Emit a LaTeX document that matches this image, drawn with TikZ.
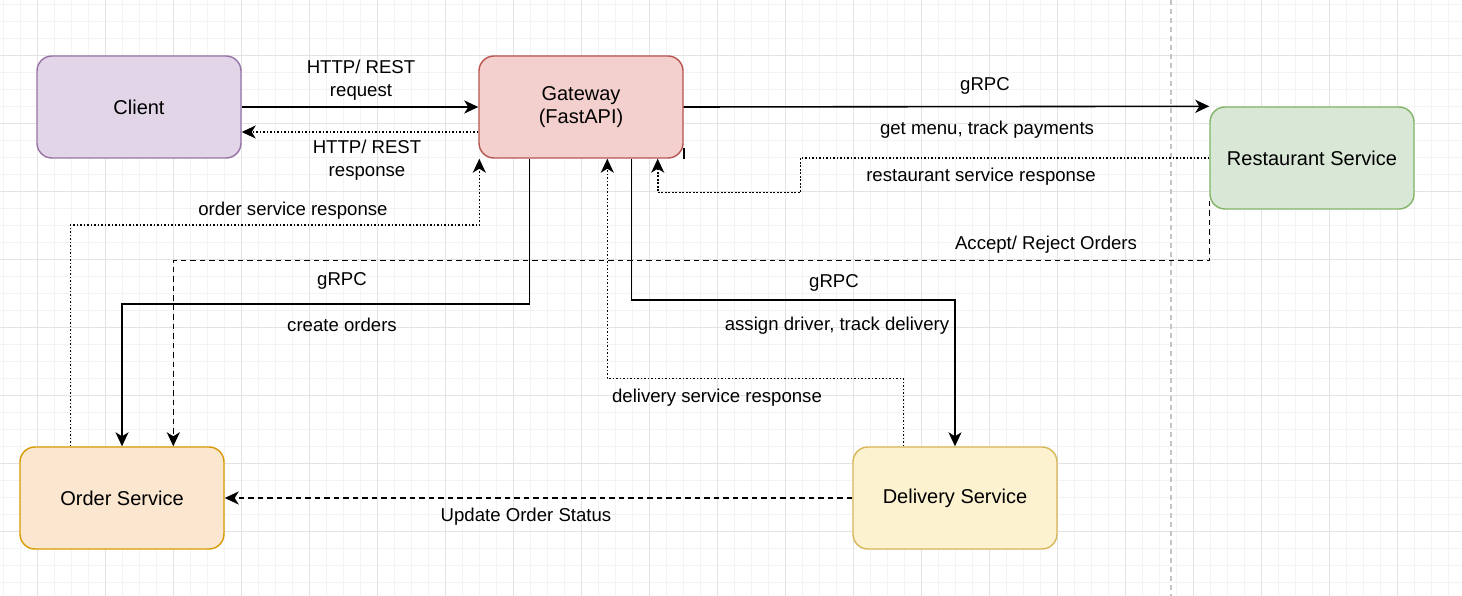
\documentclass[tikz,border=0pt]{standalone}
\usepackage{fontspec}
\setmainfont{Liberation Sans}
\usetikzlibrary{arrows.meta,calc}
\definecolor{gridminor}{HTML}{F3F3F3}
\definecolor{gridmajor}{HTML}{E3E3E3}
\definecolor{sepline}{HTML}{C4C4C4}
\definecolor{purfill}{HTML}{E1D5E7}\definecolor{purdraw}{HTML}{9673A6}
\definecolor{redfill}{HTML}{F3D0CE}\definecolor{reddraw}{HTML}{B85450}
\definecolor{grnfill}{HTML}{D9E8D6}\definecolor{grndraw}{HTML}{82B366}
\definecolor{orgfill}{HTML}{FBE6D0}\definecolor{orgdraw}{HTML}{D79B00}
\definecolor{yelfill}{HTML}{FCF2CF}\definecolor{yeldraw}{HTML}{D6B656}
\begin{document}
\begin{tikzpicture}[x=1pt,y=-1pt,
  box/.style={rectangle,rounded corners=15pt,minimum width=204pt,minimum height=102pt,line width=1.4pt,align=center,font=\fontsize{20}{23.5}\selectfont},
  lbl/.style={align=center,inner sep=0pt,font=\fontsize{18.6}{23}\selectfont},
  conn/.style={line width=1.6pt,-{Stealth[length=14pt,width=13pt,inset=4pt]}},
  dotline/.style={conn,dash pattern=on 1.6pt off 1.9pt},
  dashline/.style={conn,dash pattern=on 5.5pt off 4pt},
]
\useasboundingbox (0,0) rectangle (1462,596);
\fill[white] (0,0) rectangle (1462,596);
% grid
\foreach \i in {0,...,86} {\draw[gridminor,line width=0.8pt] ({3+17*\i},0) -- ({3+17*\i},596);}
\foreach \i in {0,...,35} {\draw[gridminor,line width=0.8pt] (0,{4+17*\i}) -- (1462,{4+17*\i});}
\foreach \i in {0,...,21} {\draw[gridmajor,line width=0.9pt] ({37+68*\i},0) -- ({37+68*\i},596);}
\foreach \i in {-1,...,8} {\draw[gridmajor,line width=0.9pt] (0,{55+68*\i}) -- (1462,{55+68*\i});}
\draw[sepline,line width=1.2pt,dash pattern=on 5pt off 4pt] (1171,0) -- (1171,596);
% boxes
\node[box,fill=purfill,draw=purdraw] (client) at (139,107) {Client};
\node[box,fill=redfill,draw=reddraw] (gw) at (581,107) {Gateway\\(FastAPI)};
\node[box,fill=grnfill,draw=grndraw] (rest) at (1312,158) {Restaurant Service};
\node[box,fill=orgfill,draw=orgdraw] (order) at (122,498) {Order Service};
\node[box,fill=yelfill,draw=yeldraw] (deliv) at (955,498) {Delivery Service};
% connectors
\draw[conn] (client.east) -- (gw.west);
\draw[dotline] ($(gw.west)+(0,25)$) -- ($(client.east)+(0,25)$);
\draw[conn] (gw.east) -- (rest.north west);
\draw[line width=1.6pt] (gw.south east) -- ++(0,-11);
\draw[dotline] (rest.west) -- ++(-409,0) |- ($(gw.south east)+(-26,34)$) -- ($(gw.south east)+(-26,0)$);
\draw[conn] ($(gw.south west)+(51,0)$) -- ++(0,145) -| (order.north);
\draw[dotline] ($(order.north west)+(51,0)$) -- ++(0,-221) -| ($(gw.south west)+(1,0)$);
\draw[dashline] ($(rest.south west)+(0,-9)$) -- ++(0,60) -| ($(order.north west)+(154,0)$);
\draw[conn] ($(gw.south west)+(153,0)$) -- ++(0,141) -| (deliv.north);
\draw[dotline] ($(deliv.north west)+(51,0)$) -- ++(0,-68) -| ($(gw.south west)+(129,0)$);
\draw[dashline] (deliv.west) -- (order.east);
% labels
\node[lbl] (l1) at (361,80) {HTTP/ REST\\request};
\node[lbl] (l2) at (367,160) {HTTP/ REST\\response};
\node[lbl] (l3) at (985,86) {gRPC};
\node[lbl] (l4) at (987,130) {get menu, track payments};
\node[lbl] (l5) at (981,177) {restaurant service response};
\node[lbl] (l6) at (293,211) {order service response};
\node[lbl] (l7) at (1046,245) {Accept/ Reject Orders};
\node[lbl] (l8) at (342,281) {gRPC};
\node[lbl] (l9) at (342,325) {create orders};
\node[lbl] (l10) at (834,283) {gRPC};
\node[lbl] (l11) at (837,326) {assign driver, track delivery};
\node[lbl] (l12) at (717,398) {delivery service response};
\node[lbl] (l13) at (526,517) {Update Order Status};
\end{tikzpicture}
\end{document}
